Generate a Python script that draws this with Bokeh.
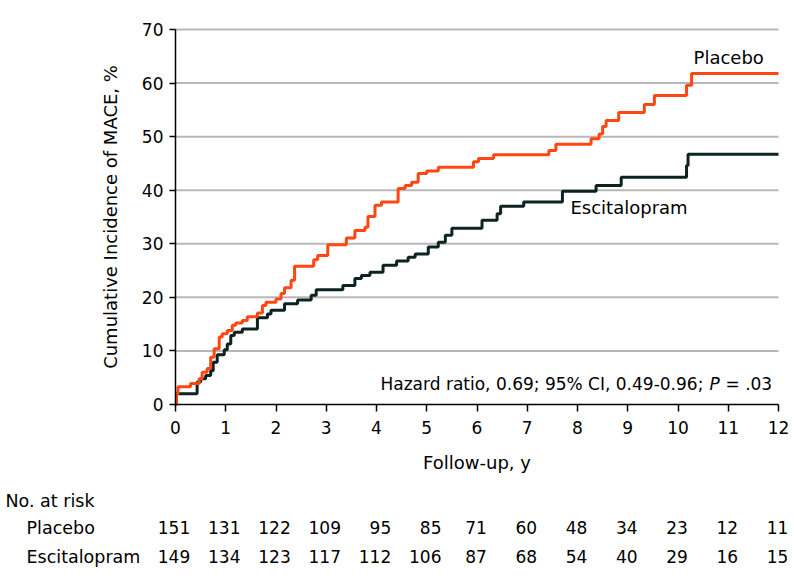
from bokeh.plotting import figure
from bokeh.models import Range1d, Label, FixedTicker, ColumnDataSource
from bokeh.core.properties import value
from bokeh.embed import file_html
from bokeh.resources import INLINE

FONT = "DejaVu Sans"

# ---- data ----
placebo_t = [0, 0.02, 0.05, 0.3, 0.47, 0.53, 0.63, 0.7, 0.77, 0.87, 0.93, 1.03, 1.13, 1.2,
             1.33, 1.43, 1.63, 1.73, 1.8, 2.0, 2.1, 2.17, 2.3, 2.37, 2.75, 2.83, 3.03, 3.4,
             3.57, 3.77, 3.83, 3.97, 4.1, 4.43, 4.57, 4.7, 4.83, 5.0, 5.23, 5.93, 6.03, 6.33,
             7.43, 7.57, 8.27, 8.43, 8.5, 8.57, 8.82, 9.33, 9.53, 10.17, 10.27, 12.0]
placebo_v = [0, 2.0, 3.3, 3.9, 4.8, 6.0, 6.7, 8.8, 10.4, 12.6, 13.2, 13.8, 14.8, 15.2,
             15.7, 16.4, 17.1, 18.5, 19.1, 19.7, 20.7, 21.8, 23.2, 25.8, 27.0, 27.8, 29.8, 31.1,
             32.5, 33.1, 35.1, 37.2, 37.8, 40.3, 40.9, 41.5, 43.1, 43.6, 44.3, 45.3, 45.9, 46.6,
             47.4, 48.6, 49.6, 50.5, 51.9, 53.0, 54.5, 56.0, 57.7, 59.6, 61.8, 61.8]

escit_t = [0, 0.02, 0.43, 0.5, 0.6, 0.7, 0.75, 0.83, 0.97, 1.03, 1.1, 1.17, 1.33, 1.63,
           1.83, 1.9, 2.17, 2.43, 2.7, 2.8, 3.33, 3.57, 3.7, 3.87, 4.13, 4.4, 4.63, 4.77,
           5.03, 5.23, 5.37, 5.5, 6.1, 6.4, 6.47, 6.93, 7.7, 8.37, 8.87, 10.17, 10.2, 12.0]
escit_v = [0, 2.0, 4.2, 4.8, 5.4, 6.3, 7.9, 9.3, 10.2, 11.3, 12.9, 13.5, 14.1, 16.2,
           16.9, 17.6, 18.8, 19.5, 20.4, 21.4, 22.2, 23.5, 24.1, 24.7, 26.0, 26.8, 27.5, 28.1,
           29.4, 30.3, 31.6, 32.9, 34.4, 35.6, 37.0, 37.8, 39.8, 40.9, 42.4, 44.6, 46.7, 46.7]

x_ticks = list(range(0, 13))
y_ticks = list(range(0, 71, 10))

risk_times = list(range(0, 13))
risk_placebo = [151, 131, 122, 109, 95, 85, 71, 60, 48, 34, 23, 12, 11]
risk_escit = [149, 134, 123, 117, 112, 106, 87, 68, 54, 40, 29, 16, 15]

ORANGE = "#ff4713"
DARK = "#0d2322"
GRID = "#b8b8b8"

# ---- geometry: the frame covers the whole canvas; axes are pinned at 0 ----
W, H = 794, 584
X0_PX, X12_PX = 175, 778          # pixel columns of x = 0 and x = 12
Y0_PX, Y70_PX = 404, 29           # pixel rows of y = 0 and y = 70
PXX = (X12_PX - X0_PX) / 12
PXY = (Y0_PX - Y70_PX) / 70

def dx(px):   # canvas pixel column -> data x
    return (px - X0_PX) / PXX

def dy(py):   # canvas pixel row -> data y
    return (Y0_PX - py) / PXY

p = figure(width=W, height=H, x_range=Range1d(dx(0), dx(W)), y_range=Range1d(dy(H), dy(0)),
           output_backend="svg", toolbar_location=None, min_border=0)
p.outline_line_color = None
p.xgrid.visible = False
p.ygrid.visible = False

# horizontal grid lines, spanning the x axis only
grid_y = [t for t in y_ticks if t > 0]
p.segment(x0=[x_ticks[0]] * len(grid_y), x1=[x_ticks[-1]] * len(grid_y),
          y0=grid_y, y1=grid_y, line_color=GRID, line_width=2)

for ax in (p.xaxis[0], p.yaxis[0]):
    ax.fixed_location = 0
    ax.axis_line_color = "black"
    ax.axis_line_width = 1.5
    ax.major_tick_line_color = "black"
    ax.major_tick_line_width = 1.5
    ax.major_tick_in = 0
    ax.minor_tick_line_color = None
    ax.major_label_text_font = FONT
    ax.major_label_text_font_size = "17px"
    ax.major_label_text_color = "black"
    ax.axis_label_text_font = FONT
    ax.axis_label_text_font_size = "18px"
    ax.axis_label_text_font_style = "normal"
    ax.axis_label_text_color = "black"

p.xaxis.ticker = FixedTicker(ticks=x_ticks)
p.xaxis.bounds = (0, 12)
p.xaxis.major_tick_out = 7
p.xaxis.major_label_standoff = 9
p.xaxis.axis_label = "Follow-up, y"
p.xaxis.axis_label_standoff = 15

p.yaxis.ticker = FixedTicker(ticks=y_ticks)
p.yaxis.bounds = (0, 70)
p.yaxis.major_tick_out = 6
p.yaxis.major_label_standoff = 6
p.yaxis.axis_label = "Cumulative Incidence of MACE, %"
p.yaxis.axis_label_standoff = 18

p.step(escit_t, escit_v, mode="after", line_width=3, line_color=DARK)
p.step(placebo_t, placebo_v, mode="after", line_width=3, line_color=ORANGE)

p.add_layout(Label(x=10.31, y=64.7, text="Placebo", text_baseline="middle",
                   text_font=FONT, text_font_size="18px", text_color="black"))
p.add_layout(Label(x=7.86, y=36.7, text="Escitalopram", text_baseline="middle",
                   text_font=FONT, text_font_size="18px", text_color="black"))
hr_x = dx(380)
p.add_layout(Label(x=hr_x, y=3.9, text="Hazard ratio, 0.69; 95% CI, 0.49-0.96;",
                   text_align="left", text_baseline="middle",
                   text_font=FONT, text_font_size="17px", text_color="black"))
p.add_layout(Label(x=hr_x, x_offset=329, y=3.9, text="P", text_align="left",
                   text_baseline="middle", text_font=FONT, text_font_size="17px",
                   text_font_style="italic", text_color="black"))
p.add_layout(Label(x=hr_x, x_offset=345, y=3.9, text="= .03", text_align="left",
                   text_baseline="middle", text_font=FONT, text_font_size="17px",
                   text_color="black"))

# ---- number at risk table ----
row_y = {"head": dy(500), "placebo": dy(527), "escit": dy(556)}
digit_w = 9.8
xs, ys, ts, xo = [], [], [], []
for i, tm in enumerate(risk_times):
    nd = max(len(str(risk_placebo[i])), len(str(risk_escit[i])))
    for yy, val in ((row_y["placebo"], risk_placebo[i]), (row_y["escit"], risk_escit[i])):
        xs.append(tm)
        ys.append(yy)
        ts.append(str(val))
        xo.append(nd * digit_w / 2)
src = ColumnDataSource(dict(x=xs, y=ys, t=ts, xo=xo))
p.text(x="x", y="y", text="t", x_offset="xo", source=src, text_align="right",
       text_baseline="middle", text_font=value(FONT), text_font_size="17px",
       text_color="black")

p.add_layout(Label(x=dx(5), y=row_y["head"], text="No. at risk", text_baseline="middle",
                   text_font=FONT, text_font_size="17.5px", text_color="black"))
p.add_layout(Label(x=dx(26), y=row_y["placebo"], text="Placebo", text_baseline="middle",
                   text_font=FONT, text_font_size="17.5px", text_color="black"))
p.add_layout(Label(x=dx(26), y=row_y["escit"], text="Escitalopram", text_baseline="middle",
                   text_font=FONT, text_font_size="17.5px", text_color="black"))

open("out.html", "w").write(file_html(p, INLINE))
